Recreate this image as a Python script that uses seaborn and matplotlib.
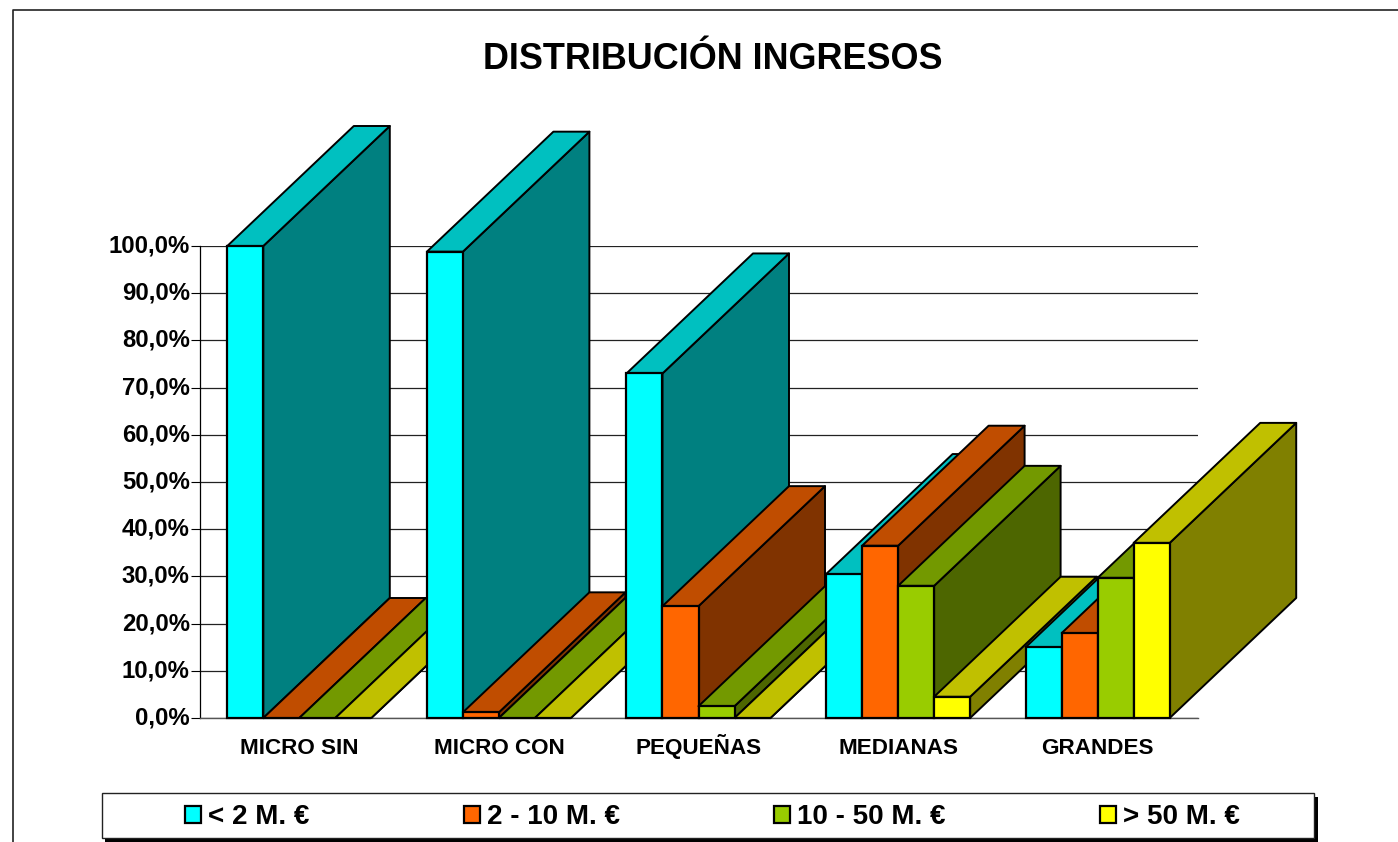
# Distribucion de ingresos, barras con falso 3D como en Excel
import pandas as pd
import matplotlib
matplotlib.use('Agg')
import matplotlib.pyplot as plt
from matplotlib.lines import Line2D
from matplotlib.patches import Polygon, Rectangle
import seaborn as sns

categorias = ['MICRO SIN', 'MICRO CON', 'PEQUEÑAS', 'MEDIANAS', 'GRANDES']
series = ['< 2 M. €', '2 - 10 M. €', '10 - 50 M. €', '> 50 M. €']
menos_2 = [100.0, 98.8, 73.0, 30.5, 15.0]
de_2_a_10 = [0.0, 1.2, 23.7, 36.5, 18.0]
de_10_a_50 = [0.0, 0.0, 2.5, 28.0, 29.7]
mas_50 = [0.0, 0.0, 0.0, 4.5, 37.1]
ticks_y = [0, 10, 20, 30, 40, 50, 60, 70, 80, 90, 100]

color_frente = ['#00FFFF', '#FF6600', '#99CC00', '#FFFF00']
color_arriba = ['#00C0C0', '#C04D00', '#739900', '#C0C000']
color_lado = ['#008080', '#803300', '#4D6600', '#808000']

W, H = 1398, 842
PROF_X, PROF_Y = 126.5, 120  # profundidad en pixeles

# Tabla larga para seaborn
filas = []
for s, valores in zip(series, [menos_2, de_2_a_10, de_10_a_50, mas_50]):
    for c, v in zip(categorias, valores):
        filas.append({'categoria': c, 'serie': s, 'valor': v})
df = pd.DataFrame(filas)

sns.set_theme(style='white')
plt.rcParams['font.family'] = ['Liberation Sans', 'DejaVu Sans']
plt.rcParams['font.weight'] = 'bold'
plt.rcParams['text.color'] = 'black'

fig = plt.figure(figsize=(W / 100, H / 100), dpi=100)
ax = fig.add_axes([199.5 / W, 1 - 718 / H, 998 / W, 472 / H])

sns.barplot(data=df, x='categoria', y='valor', hue='serie', order=categorias,
            hue_order=series, palette=color_frente, width=0.7215, gap=0,
            saturation=1, edgecolor='black', linewidth=1.6, ax=ax, legend=True)
h_leyenda, l_leyenda = ax.get_legend_handles_labels()
ax.get_legend().remove()

ax.set_xlim(-0.5, 4.5)
ax.set_ylim(0, 100)
ax.set_xlabel('')
ax.set_ylabel('')
ax.set_yticks(ticks_y)
ax.set_yticklabels(['%d,0%%' % t for t in ticks_y], fontsize=17.2, fontweight='bold', color='black', va='center')
ax.tick_params(axis='y', length=6.5, width=0.8, color='black', pad=0.5, left=True)
ax.tick_params(axis='x', length=0, pad=26)
for t in ax.get_xticklabels():
    t.set_fontsize(16.2)
    t.set_fontweight('bold')
    t.set_color('black')
    t.set_verticalalignment('baseline')
ax.yaxis.grid(True, color='#222222', linewidth=0.9, zorder=1)
ax.set_axisbelow(True)
ax.patch.set_alpha(0)
for lado in ['top', 'right']:
    ax.spines[lado].set_visible(False)
ax.spines['left'].set_color('black')
ax.spines['left'].set_linewidth(0.9)
ax.spines['left'].set_zorder(1)
ax.spines['bottom'].set_color('#555555')
ax.spines['bottom'].set_linewidth(1.0)
ax.spines['bottom'].set_zorder(1)

# Caras de arriba y de lado, calculadas desde cada barra
dx = PROF_X / 998 * 5
dy = PROF_Y / 472 * 100
borde = dict(edgecolor='black', linewidth=1.4, clip_on=False, joinstyle='round')
for j, cont in enumerate(ax.containers):
    for i, barra in enumerate(cont):
        x0 = barra.get_x()
        x1 = x0 + barra.get_width()
        alto = barra.get_height()
        z = 3 + i * 10 + j * 2
        ax.add_patch(Polygon([(x1, 0), (x1 + dx, dy), (x1 + dx, alto + dy), (x1, alto)],
                             facecolor=color_lado[j], zorder=z, **borde))
        ax.add_patch(Polygon([(x0, alto), (x0 + dx, alto + dy), (x1 + dx, alto + dy), (x1, alto)],
                             facecolor=color_arriba[j], zorder=z + 0.1, **borde))
        barra.set_zorder(z + 0.2)
        barra.set_clip_on(False)

# Titulo y marco exterior del grafico
fig.text(712.5 / W, 1 - 69 / H, 'DISTRIBUCIÓN INGRESOS', ha='center', va='baseline',
         fontsize=25.9, fontweight='bold', color='black')
fig.add_artist(Line2D([12.5 / W, 12.5 / W, 1], [0, 1 - 9.5 / H, 1 - 9.5 / H], color='#222222', linewidth=1.2))

# Caja de leyenda con sombra
fig.add_artist(Rectangle((105 / W, 0), 1213 / W, 1 - 797 / H, facecolor='black', edgecolor='none', zorder=2))
fig.add_artist(Rectangle((101.5 / W, 1 - 838 / H), 1212.5 / W, 45 / H, facecolor='white',
                         edgecolor='#222222', linewidth=1.0, zorder=3))
leyenda = fig.legend(h_leyenda, l_leyenda, ncols=4, loc='center left',
                     bbox_to_anchor=(185 / W, 1 - 817 / H), frameon=False, borderpad=0,
                     borderaxespad=0, prop=dict(weight='bold', size=20),
                     handlelength=0.58, handleheight=0.58, handletextpad=0.25, columnspacing=5.55)
leyenda.set_zorder(4)

fig.savefig('out.png', dpi=100)
